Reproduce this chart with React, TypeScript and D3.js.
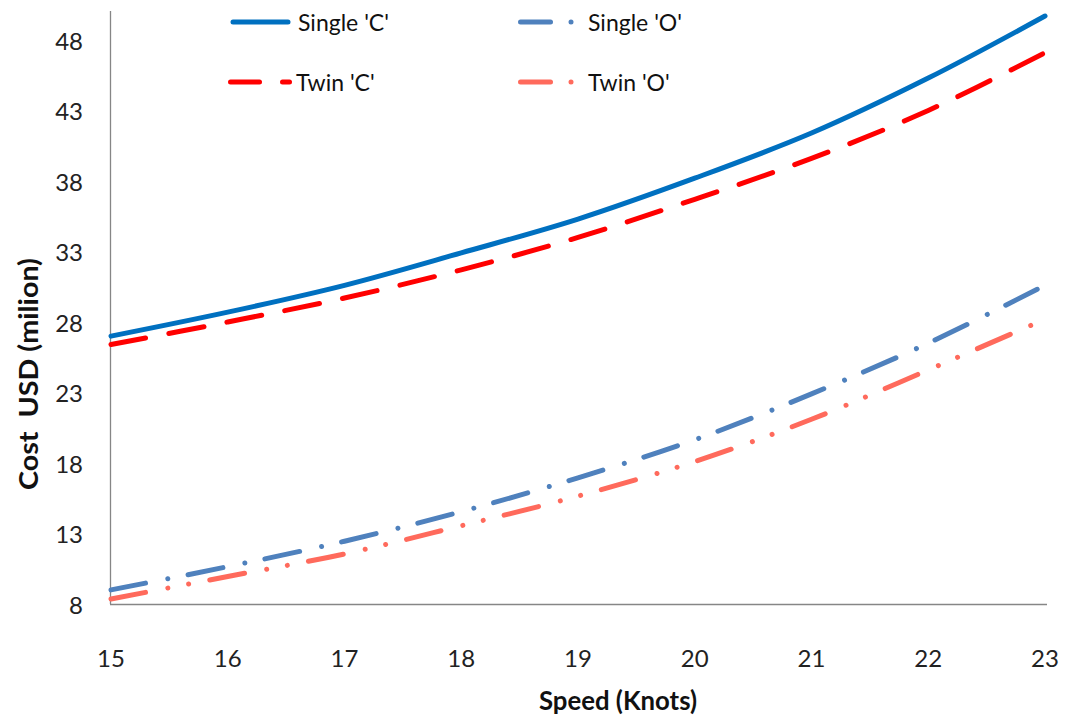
import React from "react";
import * as d3 from "d3";

const speeds = [15, 16, 17, 18, 19, 20, 21, 22, 23];
const singleC = [27.0, 28.7, 30.6, 32.9, 35.3, 38.2, 41.4, 45.3, 49.7];
const twinC = [26.4, 28.0, 29.7, 31.7, 34.0, 36.7, 39.6, 43.0, 47.1];
const singleO = [9.0, 10.65, 12.45, 14.55, 16.95, 19.65, 22.9, 26.5, 30.6];
const twinO = [8.35, 9.95, 11.55, 13.55, 15.65, 18.1, 21.1, 24.6, 28.2];
const yTicks = [8, 13, 18, 23, 28, 33, 38, 43, 48];
const xTicks = [15, 16, 17, 18, 19, 20, 21, 22, 23];

const seriesNames = ["Single 'C'", "Twin 'C'", "Single 'O'", "Twin 'O'"];

const FONT = "Lato, 'Open Sans', 'Liberation Sans', sans-serif";

export default function App() {
  const W = 1068, H = 717;
  const x = d3.scaleLinear().domain([15, 23]).range([111, 1045]);
  const y = d3.scaleLinear().domain([8, 50]).range([604, 11.8]);

  const series = [
    { name: seriesNames[0], values: singleC, color: "#0070C0", dash: "none" },
    { name: seriesNames[1], values: twinC, color: "#FF0000", dash: "35.5 23.5" },
    { name: seriesNames[2], values: singleO, color: "#4F81BD", dash: "35.5 22.5 0.01 20.5" },
    { name: seriesNames[3], values: twinO, color: "#FF6A5C", dash: "35.5 22.5 0.01 21 0.01 21.5" },
  ];

  const line = d3
    .line<number>()
    .x((_, i) => x(speeds[i]))
    .y((d) => y(d))
    .curve(d3.curveCatmullRom.alpha(0.5));

  // legend: segments [x1,x2] per entry (dots have x1==x2)
  const legend = [
    { s: series[0], segs: [[233, 288]], ly: 22, tx: 298 },
    { s: series[1], segs: [[230.5, 259.5], [282.5, 289.5]], ly: 82, tx: 296 },
    { s: series[2], segs: [[520.5, 550.5], [571, 571]], ly: 22, tx: 588 },
    { s: series[3], segs: [[520.5, 550.5], [571, 571]], ly: 82, tx: 588 },
  ];

  return (
    <svg
      width={W}
      height={H}
      style={{ position: "absolute", left: 0, top: 0, background: "#fff" }}
      fontFamily={FONT}
    >
      {/* axes */}
      <line x1={110.5} x2={110.5} y1={11} y2={604} stroke="#868686" strokeWidth={1.3} />
      <line x1={110} x2={1047} y1={604.5} y2={604.5} stroke="#868686" strokeWidth={1.3} />

      {yTicks.map((t) => (
        <text key={t} x={83} y={y(t)} textAnchor="end" dominantBaseline="central" fontSize={24} fill="#222">
          {t}
        </text>
      ))}
      {xTicks.map((t) => (
        <text key={t} x={x(t)} y={657} textAnchor="middle" dominantBaseline="central" fontSize={24} fill="#222">
          {t}
        </text>
      ))}

      <text
        x={618}
        y={700}
        textAnchor="middle"
        dominantBaseline="central"
        fontSize={26}
        fontWeight="bold"
        fill="#111"
        textLength={158}
        lengthAdjust="spacingAndGlyphs"
      >
        Speed (Knots)
      </text>
      <text
        transform="translate(28,374) rotate(-90)"
        textAnchor="middle"
        dominantBaseline="central"
        fontSize={26}
        fontWeight="bold"
        fill="#111"
        style={{ whiteSpace: "pre" }}
        textLength={232}
        lengthAdjust="spacingAndGlyphs"
      >
        {"Cost  USD (milion)"}
      </text>

      {series.map((s) => (
        <path
          key={s.name}
          d={line(s.values) || ""}
          fill="none"
          stroke={s.color}
          strokeWidth={5}
          strokeLinecap="round"
          strokeDasharray={s.dash}
        />
      ))}

      {legend.map((l) => (
        <g key={l.s.name}>
          {l.segs.map(([a, b], i) => (
            <line
              key={i}
              x1={a}
              x2={b + (a === b ? 0.01 : 0)}
              y1={l.ly}
              y2={l.ly}
              stroke={l.s.color}
              strokeWidth={5}
              strokeLinecap="round"
            />
          ))}
          <text x={l.tx} y={l.ly} dominantBaseline="central" fontSize={23} fill="#111">
            {l.s.name}
          </text>
        </g>
      ))}
    </svg>
  );
}
